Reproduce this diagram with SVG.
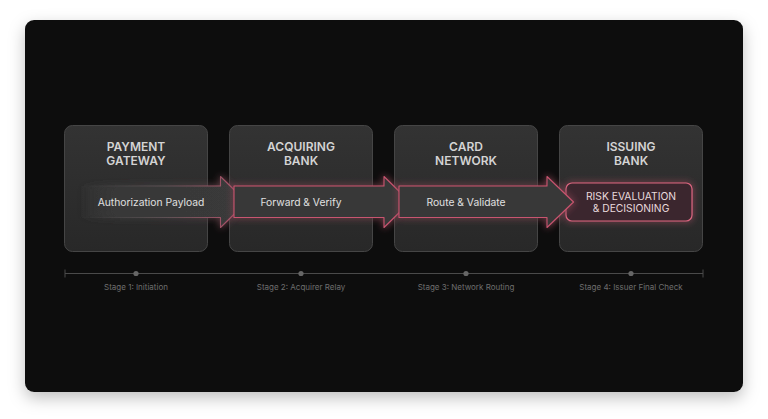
<svg xmlns="http://www.w3.org/2000/svg" width="768" height="419" viewBox="0 0 768 419">
  <defs>
    <filter id="cardShadow" x="-10%" y="-10%" width="120%" height="130%">
      <feDropShadow dx="0" dy="6" stdDeviation="8" flood-color="#000" flood-opacity="0.25"/>
    </filter>
    <filter id="glow" x="-20%" y="-60%" width="140%" height="220%">
      <feGaussianBlur stdDeviation="3.5" result="b"/>
      <feMerge><feMergeNode in="b"/><feMergeNode in="SourceGraphic"/></feMerge>
    </filter>
    <linearGradient id="boxFill" x1="0" y1="0" x2="0" y2="1">
      <stop offset="0" stop-color="#333333"/>
      <stop offset="1" stop-color="#282828"/>
    </linearGradient>
    <linearGradient id="a1Stroke" x1="80" y1="0" x2="247" y2="0" gradientUnits="userSpaceOnUse">
      <stop offset="0" stop-color="#5a5a5a" stop-opacity="0"/>
      <stop offset="0.5" stop-color="#6a5a5e" stop-opacity="0.7"/>
      <stop offset="1" stop-color="#c25470"/>
    </linearGradient>
    <linearGradient id="a1Fill" x1="80" y1="0" x2="247" y2="0" gradientUnits="userSpaceOnUse">
      <stop offset="0" stop-color="#383838" stop-opacity="0"/>
      <stop offset="0.25" stop-color="#383838"/>
      <stop offset="1" stop-color="#3a3a3a"/>
    </linearGradient>
    <style>
      .box{fill:url(#boxFill);stroke:#454545;stroke-width:1}
      .title{font-family:Inter,"Liberation Sans",sans-serif;font-size:12px;font-weight:600;fill:#d4d4d4;text-anchor:middle}
      .alabel{font-family:Inter,"Liberation Sans",sans-serif;font-size:10.3px;fill:#e0e0e0;text-anchor:middle}
      .arrow{fill:#393939;stroke:#c9546f;stroke-width:1.1;stroke-linejoin:round}
      .risk{fill:#3b282e;stroke:#db6680;stroke-width:1.2}
      .rlabel{font-family:Inter,"Liberation Sans",sans-serif;font-size:10.3px;fill:#e8dadd;text-anchor:middle}
      .tl{stroke:#4a4a4a;stroke-width:1}
      .dot{fill:#666}
      .stage{font-family:Inter,"Liberation Sans",sans-serif;font-size:8px;fill:#6e6e6e;text-anchor:middle}
    </style>
  </defs>
  <rect x="0" y="0" width="768" height="419" fill="#ffffff"/>
  <rect x="25" y="20" width="718" height="372" rx="9" fill="#0b0b0b" filter="url(#cardShadow)"/>

  <g id="node-payment-gateway">
    <rect class="box" x="64.5" y="125.5" width="143" height="126" rx="8"/>
    <text class="title" x="136" y="150.8">PAYMENT</text>
    <text class="title" x="136" y="165">GATEWAY</text>
  </g>
  <g id="node-acquiring-bank">
    <rect class="box" x="229.5" y="125.5" width="143" height="126" rx="8"/>
    <text class="title" x="301" y="150.8">ACQUIRING</text>
    <text class="title" x="301" y="165">BANK</text>
  </g>
  <g id="node-card-network">
    <rect class="box" x="394.5" y="125.5" width="143" height="126" rx="8"/>
    <text class="title" x="466" y="150.8">CARD</text>
    <text class="title" x="466" y="165">NETWORK</text>
  </g>
  <g id="node-issuing-bank">
    <rect class="box" x="559.5" y="125.5" width="143" height="126" rx="8"/>
    <text class="title" x="631" y="150.8">ISSUING</text>
    <text class="title" x="631" y="165">BANK</text>
    <g filter="url(#glow)">
      <rect class="risk" x="566" y="183" width="126" height="38" rx="6"/>
    </g>
    <text class="rlabel" x="631" y="199.5">RISK EVALUATION</text>
    <text class="rlabel" x="631" y="212">&amp; DECISIONING</text>
  </g>

  <g id="connectors">
    <g id="arrow-1">
      <path d="M80,186 H220.5 V176.5 L246.5,202 L220.5,227.5 V217.5 H80" fill="url(#a1Fill)" stroke="url(#a1Stroke)" stroke-width="1.1" stroke-linejoin="round" filter="url(#glow)"/>
      <text class="alabel" x="151" y="205.5">Authorization Payload</text>
    </g>
    <g id="arrow-2">
      <path class="arrow" d="M234,186 H384 V176.5 L410,202 L384,227.5 V217.5 H234 Z" filter="url(#glow)"/>
      <text class="alabel" x="301" y="205.5">Forward &amp; Verify</text>
    </g>
    <g id="arrow-3">
      <path class="arrow" d="M399,186 H547 V176.5 L573.5,202 L547,227.5 V217.5 H399 Z" filter="url(#glow)"/>
      <text class="alabel" x="466" y="205.5">Route &amp; Validate</text>
    </g>
  </g>

  <g id="timeline">
    <line class="tl" x1="65" y1="273.5" x2="703" y2="273.5"/>
    <line class="tl" x1="65" y1="269.5" x2="65" y2="277.5"/>
    <line class="tl" x1="703" y1="269.5" x2="703" y2="277.5"/>
    <circle class="dot" cx="136" cy="273.5" r="2.6"/>
    <circle class="dot" cx="301" cy="273.5" r="2.6"/>
    <circle class="dot" cx="466" cy="273.5" r="2.6"/>
    <circle class="dot" cx="631" cy="273.5" r="2.6"/>
    <text class="stage" x="136" y="290">Stage 1: Initiation</text>
    <text class="stage" x="301" y="290">Stage 2: Acquirer Relay</text>
    <text class="stage" x="466" y="290">Stage 3: Network Routing</text>
    <text class="stage" x="631" y="290">Stage 4: Issuer Final Check</text>
  </g>
</svg>
